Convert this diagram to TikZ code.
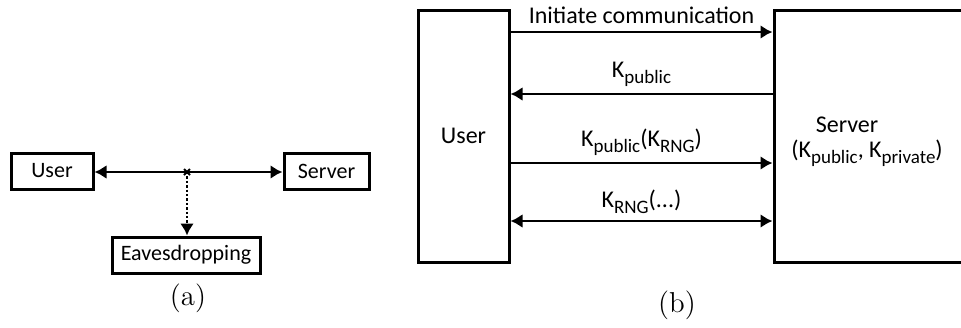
\documentclass[tikz,border=0pt]{standalone}
\usepackage{fontspec}
\newfontfamily\calfont{Carlito}
\usetikzlibrary{arrows.meta}
\usetikzlibrary{calc}

\newcommand{\ksub}[1]{K\raisebox{-3pt}{\fontsize{9.5}{10}\selectfont #1}}

\begin{document}
\begin{tikzpicture}[x=0.5pt,y=-0.5pt,
    box/.style={draw, line width=1.5pt, font=\calfont\fontsize{11}{13}\selectfont, inner sep=0pt},
    msg/.style={line width=1.2pt, >={Latex[length=6pt,width=7pt]}},
    lbl/.style={font=\calfont\fontsize{12}{14}\selectfont}]

    \useasboundingbox (0,0) rectangle (961,327);
    \clip (0,0) rectangle (961,327);

    % (a) Eavesdropping
    \node[box, minimum width=41pt, minimum height=18pt] (userA) at (52, 171) {User};
    \node[box, minimum width=42.5pt, minimum height=18pt] (serverA) at (326.5, 171) {Server};
    \node[box, minimum width=74pt, minimum height=18pt] (eaves) at (186, 255) {Eavesdropping};
    \coordinate (tap) at (187, 172);
    \draw[msg, <->] (userA.east |- tap) -- (serverA.west |- tap);
    \draw[line width=1pt] ($(tap)+(-3,-3)$) -- ($(tap)+(3,3)$)
        ($(tap)+(-3,3)$) -- ($(tap)+(3,-3)$);
    \draw[msg, ->, line width=1.4pt, dash pattern=on 1.2pt off 1pt] (tap) -- (tap |- eaves.north);
    \node (capA) at (188, 298) {\Large (a)};

    % (b) Key exchange
    \node[box, lbl, minimum width=45.5pt, minimum height=126pt] (userB) at (463.5, 136) {User};
    \node[box, minimum width=98pt, minimum height=126pt] (serverB) at (872, 136) {};
    \node[lbl] (srvname) at (847, 125) {Server};
    \node[lbl] (srvkeys) at (867, 153) {(\ksub{public}, \ksub{private})};

    \coordinate (r1) at (0, 32);
    \coordinate (r2) at (0, 94);
    \coordinate (r3) at (0, 163);
    \coordinate (r4) at (0, 221);
    \draw[msg, ->] (userB.east |- r1) -- (serverB.west |- r1)
        node[lbl, midway, above=0pt] (m1) {Initiate communication};
    \draw[msg, ->] (serverB.west |- r2) -- (userB.east |- r2)
        node[lbl, midway, above=0pt] (m2) {\ksub{public}};
    \draw[msg, ->] (userB.east |- r3) -- (serverB.west |- r3)
        node[lbl, midway, above=0pt] (m3) {\ksub{public}(\ksub{RNG})};
    \draw[msg, <->] (userB.east |- r4) -- (serverB.west |- r4)
        node[lbl, midway, above=0pt] (m4) {\ksub{RNG}(...)};
    \node (capB) at (677, 305) {\Large (b)};
\end{tikzpicture}
\end{document}
